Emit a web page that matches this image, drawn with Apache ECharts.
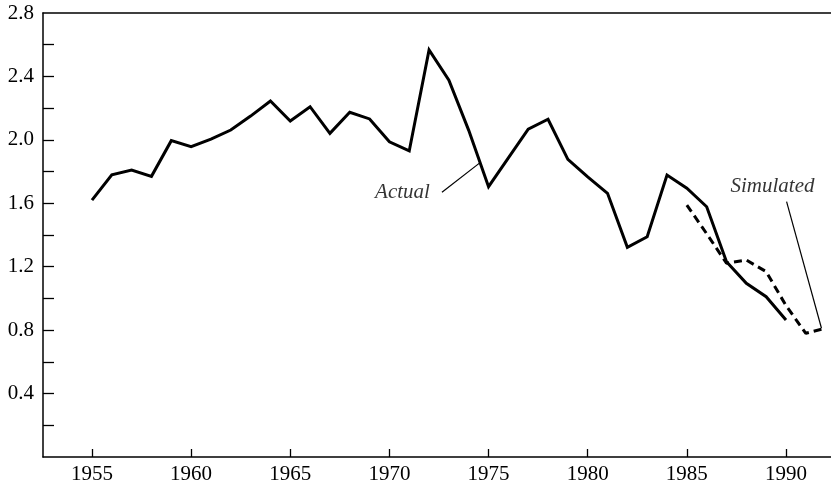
<!DOCTYPE html>
<html>
<head>
<meta charset="utf-8">
<script src="https://cdn.jsdelivr.net/npm/echarts@6/dist/echarts.min.js"></script>
<style>
html,body{margin:0;padding:0;background:#fff;}
#chart{width:831px;height:486px;}
</style>
</head>
<body>
<div id="chart"></div>
<script>
// ---- data ----
const actualYears = [1955,1956,1957,1958,1959,1960,1961,1962,1963,1964,1965,1966,1967,1968,1969,1970,1971,1972,1973,1974,1975,1976,1977,1978,1979,1980,1981,1982,1983,1984,1985,1986,1987,1988,1989,1990];
const actualValues = [1.62,1.78,1.81,1.77,1.995,1.957,2.004,2.062,2.15,2.245,2.119,2.209,2.041,2.174,2.132,1.988,1.93,2.567,2.377,2.06,1.705,1.886,2.068,2.13,1.877,1.766,1.663,1.322,1.389,1.778,1.695,1.578,1.232,1.095,1.011,0.864];
const simYears = [1985,1986,1987,1988,1989,1990,1991,1992];
const simValues = [1.589,1.408,1.222,1.242,1.169,0.955,0.78,0.812];
const xTickValues = [1955,1960,1965,1970,1975,1980,1985,1990];
const yLabelValues = [0.4,0.8,1.2,1.6,2.0,2.4,2.8];
const yTickValues = [0.2,0.4,0.6,0.8,1.0,1.2,1.4,1.6,1.8,2.0,2.2,2.4,2.6];
const annotTexts = ['Actual','Simulated'];
const annotTextPos = [[1970.66,1.665],[1989.32,1.703]];
const actualLeader = [[1972.65,1.669],[1974.59,1.858]];
const simLeader = [[1990.03,1.61],[1991.79,0.812]];

const FONT = 'Liberation Serif';
const chart = echarts.init(document.getElementById('chart'), null, {renderer:'canvas'});
const option = {
  animation: false,
  backgroundColor: '#fff',
  grid: {left: 43, right: 0, top: 13, bottom: 29, containLabel: false},
  xAxis: [{
    type: 'value', min: 1952.53, max: 1992.27,
    axisLine: {show: true, lineStyle: {color: '#000', width: 1.5}},
    axisTick: {show: true, inside: true, length: 8, customValues: xTickValues, lineStyle: {color: '#000', width: 1.3}},
    axisLabel: {show: true, customValues: xTickValues, margin: 7, color: '#000', fontFamily: FONT, fontSize: 21, formatter: v => String(v)},
    splitLine: {show: false}
  }, {
    type: 'value', position: 'top', min: 1952.53, max: 1992.27,
    axisLine: {show: true, lineStyle: {color: '#000', width: 1.5}},
    axisTick: {show: false}, axisLabel: {show: false}, splitLine: {show: false}
  }],
  yAxis: {
    type: 'value', min: 0, max: 2.8, interval: 0.2,
    axisLine: {show: true, lineStyle: {color: '#000', width: 1.5}},
    axisTick: {show: true, inside: true, length: 11, customValues: yTickValues, lineStyle: {color: '#000', width: 1.3}},
    axisLabel: {show: true, customValues: yLabelValues, margin: 9, color: '#000', fontFamily: FONT, fontSize: 21, formatter: v => v.toFixed(1)},
    splitLine: {show: false}
  },
  series: [{
    name: 'Actual', type: 'line', xAxisIndex: 0,
    data: actualYears.map((y, i) => [y, actualValues[i]]),
    showSymbol: false, symbol: 'none',
    lineStyle: {color: '#000', width: 3, join: 'miter'},
    markLine: {
      silent: true, symbol: 'none', label: {show: false},
      lineStyle: {color: '#000', width: 1.2, type: 'solid'},
      data: [
        [{coord: actualLeader[0]}, {coord: actualLeader[1]}],
        [{coord: simLeader[0]}, {coord: simLeader[1]}]
      ]
    }
  }, {
    name: 'Simulated', type: 'line', xAxisIndex: 0,
    data: simYears.map((y, i) => [y, simValues[i]]),
    showSymbol: false, symbol: 'none',
    lineStyle: {color: '#000', width: 3, type: [8, 5]}
  }, {
    name: 'labels', type: 'scatter', xAxisIndex: 0, silent: true,
    symbolSize: 0,
    data: annotTextPos.map((p, i) => ({value: p, name: annotTexts[i]})),
    label: {show: true, position: 'inside', formatter: p => p.name, color: '#000', fontFamily: FONT, fontSize: 21, fontStyle: 'italic'}
  }]
};
chart.setOption(option);
</script>
</body>
</html>
